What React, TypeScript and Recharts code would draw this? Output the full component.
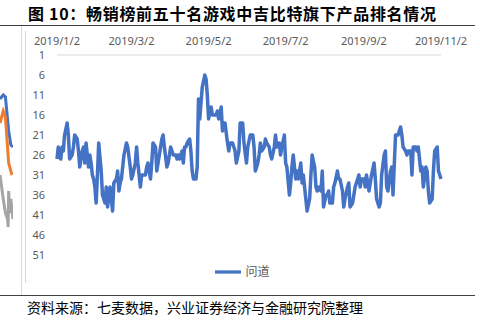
import * as React from 'react';
import { LineChart, Line, XAxis, YAxis, Legend } from 'recharts';

// x axis labels (date ticks, every two months)
const dateLabels = ['2019/1/2', '2019/3/2', '2019/5/2', '2019/7/2', '2019/9/2', '2019/11/2'];
const rankTicks = [1, 6, 11, 16, 21, 26, 31, 36, 41, 46, 51];

// days since 2019/1/2 and the daily rank of 问道
const dayIdx = [
  0, 1, 2, 3, 4, 5, 6, 8, 9, 10,
  12, 13, 14, 16, 17, 18, 20, 21, 22, 23,
  24, 25, 26, 27, 28, 29, 30, 31, 32, 33,
  35, 36, 37, 38, 39, 40, 42, 43, 44, 45,
  47, 48, 49, 50, 51, 53, 55, 56, 58, 59,
  60, 62, 63, 64, 66, 67, 68, 70, 71, 72,
  74, 75, 76, 78, 79, 81, 83, 84, 85, 87,
  88, 90, 91, 92, 94, 95, 96, 97, 99, 100,
  101, 102, 103, 105, 106, 107, 108, 110, 111, 112,
  113, 114, 115, 117, 118, 119, 120, 122, 123, 124,
  126, 127, 128, 130, 131, 132, 133, 135, 136, 137,
  139, 141, 142, 144, 145, 147, 148, 150, 151, 153,
  155, 156, 157, 159, 160, 161, 162, 164, 165, 166,
  168, 169, 170, 172, 173, 174, 176, 177, 178, 180,
  181, 182, 184, 185, 186, 187, 189, 190, 191, 193,
  194, 195, 197, 198, 200, 201, 202, 204, 205, 206,
  207, 209, 210, 211, 213, 214, 215, 216, 218, 219,
  220, 222, 223, 224, 226, 227, 228, 230, 231, 232,
  234, 235, 236, 238, 239, 240, 241, 243, 244, 245,
  247, 248, 249, 251, 252, 253, 255, 256, 257, 259,
  260, 261, 262, 264, 265, 266, 268, 269, 270, 272,
  273, 274, 276, 277, 278, 280, 281, 282, 284, 285,
  286, 288, 289, 290, 292, 293, 294, 295, 297, 298,
  299, 301, 302, 303, 304,
];
const wendao = [
  27, 24, 26, 27, 24, 25, 21, 18, 21, 27,
  26, 24, 21, 22, 25, 29, 25, 24, 28, 23,
  26, 29, 26, 28, 31, 32, 34, 38, 31, 23,
  30, 36, 37, 38, 34, 39, 34, 37, 40, 33,
  32, 30, 35, 33, 32, 26, 23, 24, 29, 32,
  31, 28, 24, 28, 34, 31, 31, 31, 29, 28,
  32, 28, 23, 24, 30, 26, 22, 21, 24, 29,
  28, 24, 25, 26, 26, 27, 26, 27, 25, 28,
  24, 24, 23, 22, 25, 30, 32, 32, 29, 12,
  17, 13, 9, 6, 7, 11, 17, 14, 16, 16,
  16, 15, 17, 14, 20, 18, 18, 23, 25, 23,
  23, 25, 28, 25, 18, 18, 23, 28, 24, 21,
  21, 24, 30, 28, 26, 23, 25, 24, 22, 23,
  24, 26, 27, 24, 21, 24, 23, 26, 24, 21,
  28, 29, 36, 33, 29, 26, 32, 30, 32, 28,
  33, 31, 37, 40, 37, 31, 26, 29, 34, 35,
  34, 35, 30, 39, 36, 36, 35, 38, 38, 34,
  33, 30, 32, 32, 35, 39, 37, 34, 33, 39,
  38, 36, 34, 32, 31, 34, 32, 32, 34, 31,
  35, 33, 31, 28, 32, 37, 39, 38, 31, 26,
  25, 34, 35, 30, 29, 36, 21, 21, 21, 19,
  21, 24, 25, 26, 25, 25, 31, 24, 24, 25,
  24, 30, 29, 34, 29, 30, 35, 38, 37, 30,
  25, 24, 30, 31, 32,
];

// cut-off edge of the neighbouring figure on the left
const prevBlueX = [0, 3, 5, 8, 10, 12];
const prevBlue = [12, 11, 11.5, 20, 23.5, 24];
const prevOrangeX = [0, 3, 5, 8, 11];
const prevOrange = [18, 15, 16.5, 28, 31];
const prevGrayX = [0, 2, 3, 5, 7, 7.5, 8, 9, 10, 12];
const prevGray = [31, 35, 37, 40.5, 42, 44, 35, 40.5, 37, 42];

const dayOf = (s: string) => {
  const [y, m, d] = s.split('/').map(Number);
  return Math.round((Date.UTC(y, m - 1, d) - Date.UTC(2019, 0, 2)) / 86400000);
};
const tickDays = dateLabels.map(dayOf);

const data = dayIdx.map((d, i) => ({ day: d, wendao: wendao[i] }));
const pts = (xs: number[], ys: number[]) => xs.map((x, i) => ({ x, r: ys[i] }));

const tickStyle = { fill: '#595959', fontSize: 11, fontFamily: 'Noto Sans' };

export default function App() {
  return (
    <div style={{ position: 'absolute', left: 0, top: 0, width: 480, height: 325, background: '#fff', overflow: 'hidden' }}>
      <div style={{ position: 'absolute', left: 28, top: 5, fontSize: 16, lineHeight: '16px', fontWeight: 700, letterSpacing: 0.7, color: '#000', fontFamily: '"Noto Sans CJK SC"', whiteSpace: 'nowrap' }}>
        图 10：畅销榜前五十名游戏中吉比特旗下产品排名情况
      </div>
      <div style={{ position: 'absolute', left: 0, top: 25, width: 475, height: 1, background: '#404040' }} />
      <div style={{ position: 'absolute', left: 21, top: 26, width: 1, height: 269, background: '#D9D9D9' }} />
      <div style={{ position: 'absolute', left: 25, top: 31, width: 1, height: 252, background: '#D9D9D9' }} />

      <div style={{ position: 'absolute', left: 0, top: 0 }}>
        <LineChart width={13} height={325} margin={{ top: 55, right: 0, left: 0, bottom: 70 }}>
          <XAxis dataKey="x" type="number" domain={[0, 12]} hide />
          <YAxis type="number" domain={[1, 51]} reversed hide />
          <Line data={pts(prevBlueX, prevBlue)} dataKey="r" stroke="#4472C4" strokeWidth={3} dot={false} isAnimationActive={false} />
          <Line data={pts(prevOrangeX, prevOrange)} dataKey="r" stroke="#ED7D31" strokeWidth={3} dot={false} isAnimationActive={false} />
          <Line data={pts(prevGrayX, prevGray)} dataKey="r" stroke="#A5A5A5" strokeWidth={3} dot={false} isAnimationActive={false} />
        </LineChart>
      </div>

      <div style={{ position: 'absolute', left: 0, top: 0 }}>
        <LineChart width={480} height={325} data={data} margin={{ top: 30, right: 39, left: 0, bottom: 70 }}>
          <XAxis
            dataKey="day"
            type="number"
            orientation="top"
            domain={[0, 304]}
            ticks={tickDays}
            interval={0}
            tickFormatter={(v) => dateLabels[tickDays.indexOf(v)]}
            axisLine={{ stroke: '#D9D9D9' }}
            tickLine={false}
            tickMargin={4}
            height={25}
            tick={tickStyle}
          />
          <YAxis
            type="number"
            reversed
            domain={[1, 51]}
            ticks={rankTicks}
            interval={0}
            axisLine={false}
            tickLine={false}
            tickMargin={6}
            width={57}
            tick={tickStyle}
          />
          <Legend
            layout="horizontal"
            verticalAlign="middle"
            align="center"
            iconType="plainline"
            iconSize={26}
            wrapperStyle={{ top: 259, left: 15, width: 465 }}
            formatter={(v) => <span style={{ color: '#595959', fontSize: 12, fontFamily: '"Noto Sans CJK SC"' }}>{v}</span>}
          />
          <Line type="linear" dataKey="wendao" name="问道" stroke="#4472C4" strokeWidth={3.5} strokeLinejoin="round" dot={false} isAnimationActive={false} />
        </LineChart>
      </div>

      <div style={{ position: 'absolute', left: 0, top: 295, width: 475, height: 1, background: '#404040' }} />
      <div style={{ position: 'absolute', left: 27, top: 300, fontSize: 14, lineHeight: '14px', color: '#000', fontFamily: '"Noto Sans CJK SC"', whiteSpace: 'nowrap' }}>
        资料来源：七麦数据，兴业证券经济与金融研究院整理
      </div>
    </div>
  );
}
